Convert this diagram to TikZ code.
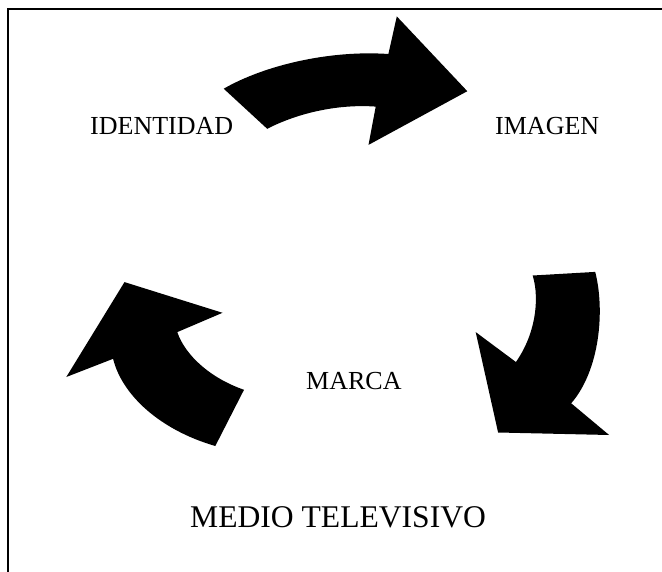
\documentclass[tikz,border=0pt]{standalone}
\usepackage{fontspec}
\setmainfont{Liberation Serif}
\begin{document}
\begin{tikzpicture}[x=1bp,y=-1bp,
  lbl/.style={inner sep=0pt,anchor=base west,font=\fontsize{26bp}{30bp}\selectfont},
  biglbl/.style={inner sep=0pt,anchor=base west,font=\fontsize{31.6bp}{36bp}\selectfont},
  bigarrow/.style={fill=black,draw=none}]
\useasboundingbox (0,0) rectangle (662,572);
% frame (top and left edges)
\draw[line width=1.6bp] (8,572) -- (8,9) -- (662,9);
% top arrow
\path[bigarrow] (223.7,88.7) .. controls (265,65) and (330,50) .. (388.4,54)
  -- (396.8,16.4) -- (467.3,91.2) -- (368.5,144.9) -- (375.7,106.6)
  .. controls (340,104) and (300,112) .. (267.2,128.8) -- cycle;
% right arrow
\path[bigarrow] (532.7,275.5) -- (595.2,271.9)
  .. controls (605,310) and (600,370) .. (571.2,403.3)
  -- (609.1,435) -- (498.1,432.5) -- (475.7,332.1) -- (515.9,362)
  .. controls (535,335) and (540,300) .. (532.7,275.5) -- cycle;
% left arrow
\path[bigarrow] (215.3,446) -- (244,389.8)
  .. controls (210,378) and (185,355) .. (177.3,332.1)
  -- (222.5,312.8) -- (124.5,282.1) -- (66.3,377) -- (113.1,358.8)
  .. controls (122,395) and (160,430) .. (215.3,446) -- cycle;
% labels
\node[lbl] (ident) at (90,135) {IDENTIDAD};
\node[lbl] (imagen) at (495,135) {IMAGEN};
\node[lbl] (marca) at (306,389.5) {MARCA};
\node[biglbl] (medio) at (190,527) {MEDIO TELEVISIVO};
\end{tikzpicture}
\end{document}
